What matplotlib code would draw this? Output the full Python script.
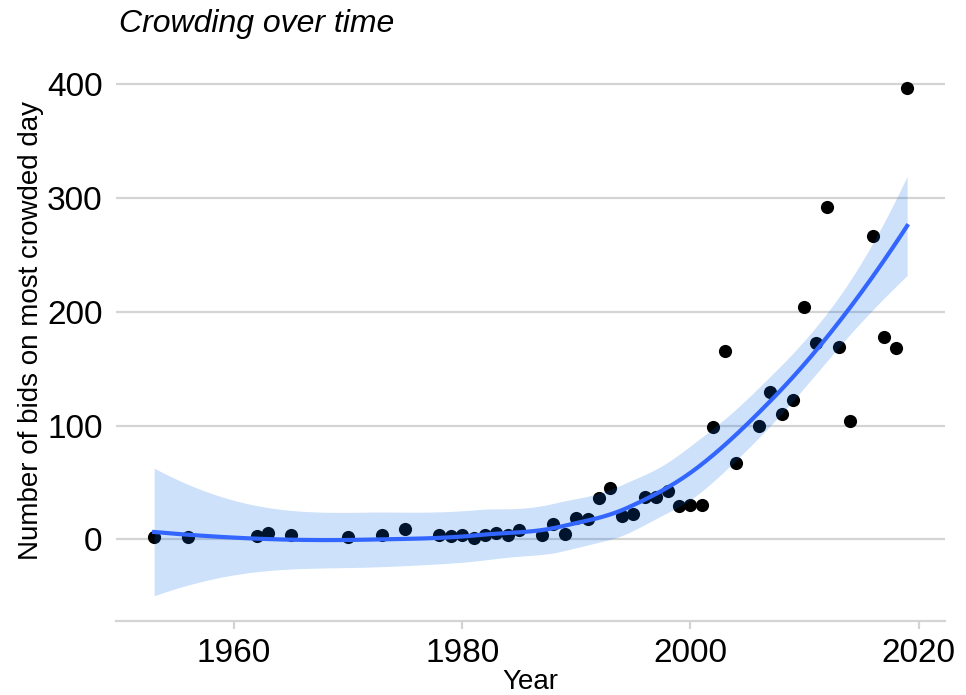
import matplotlib
matplotlib.use("Agg")
import matplotlib.pyplot as plt
import numpy as np

# ======================================
# Data
# ======================================
years = np.array([
    1953, 1956, 1962, 1963, 1965, 1970, 1973, 1975, 1978, 1979,
    1980, 1981, 1982, 1983, 1984, 1985, 1987, 1988, 1989, 1990,
    1991, 1992, 1993, 1994, 1995, 1996, 1997, 1998, 1999, 2000,
    2001, 2002, 2003, 2004, 2006, 2007, 2008, 2009, 2010, 2011,
    2012, 2013, 2014, 2016, 2017, 2018, 2019,
])
bids = np.array([
    2, 2, 3, 6, 4, 2, 4, 9, 4, 3,
    4, 1, 4, 6, 4, 8, 4, 14, 5, 19,
    18, 36, 45, 21, 22, 37, 37, 43, 29, 30,
    30, 99, 166, 67, 100, 130, 110, 123, 204, 173,
    292, 169, 104, 267, 178, 168, 397,
])


# ======================================
# loess smooth (span 0.75, local quadratic, kd-vertex interpolation)
# ======================================
SPAN = 0.75


def local_rows(x, x0, span=SPAN):
    """Smoother rows for the value and slope of the local fit at x0."""
    n = len(x)
    q = int(np.floor(span * n))
    d = np.abs(x - x0)
    h = np.sort(d)[q - 1]
    u = np.clip(d / h, 0, 1)
    w = (1 - u ** 3) ** 3
    B = np.column_stack([np.ones(n), x - x0, (x - x0) ** 2])
    BW = B * w[:, None]
    coef = np.linalg.solve(B.T @ BW, BW.T)
    return coef[0], coef[1]


def kd_vertices(xs_sorted, fc):
    rng = xs_sorted[-1] - xs_sorted[0]
    mu = 0.005 * rng
    verts = {xs_sorted[0] - mu, xs_sorted[-1] + mu}

    def split(lo, hi):
        if hi - lo + 1 <= fc:
            return
        m = (lo + hi) // 2
        v = (xs_sorted[m] + xs_sorted[m + 1]) / 2
        verts.add(v)
        split(lo, m)
        split(m + 1, hi)

    split(0, len(xs_sorted) - 1)
    return np.array(sorted(verts))


xs = years.astype(float)
fc = int(np.floor(len(xs) * SPAN * 0.2))
verts = kd_vertices(np.sort(xs), fc)
V = [local_rows(xs, v) for v in verts]
Lv = np.array([r[0] for r in V])
Dv = np.array([r[1] for r in V])


def interp_rows(xq):
    rows = []
    for x0 in xq:
        k = np.clip(np.searchsorted(verts, x0) - 1, 0, len(verts) - 2)
        h = verts[k + 1] - verts[k]
        t = (x0 - verts[k]) / h
        h00 = 2 * t**3 - 3 * t**2 + 1
        h10 = t**3 - 2 * t**2 + t
        h01 = -2 * t**3 + 3 * t**2
        h11 = t**3 - t**2
        rows.append(h00 * Lv[k] + h10 * h * Dv[k]
                    + h01 * Lv[k + 1] + h11 * h * Dv[k + 1])
    return np.array(rows)


L = interp_rows(xs)
resid = bids - L @ bids
R = np.eye(len(xs)) - L
one_delta = np.trace(R.T @ R)
s = np.sqrt(resid @ resid / one_delta)
t_crit = 2.02  # t(0.975) for df about 40

grid = np.linspace(xs.min(), xs.max(), 300)
Lg = interp_rows(grid)
fit = Lg @ bids
se = s * np.sqrt((Lg ** 2).sum(axis=1))
lo, hi = fit - t_crit * se, fit + t_crit * se

# ======================================
# Style
# ======================================
plt.rcParams.update({
    "font.family": ["Liberation Sans", "DejaVu Sans"],
})
grid_color = "#d4d4d4"

fig = plt.figure(figsize=(9.66, 6.95), dpi=100, facecolor="white")
ax = fig.add_subplot(111)
fig.subplots_adjust(left=0.1206, right=0.978, top=0.908, bottom=0.106)

ax.scatter(years, bids, s=90, color="black", linewidths=0, zorder=2)
ax.fill_between(grid, lo, hi, color=(5/255, 105/255, 230/255), alpha=0.2,
                linewidth=0, zorder=3)
ax.plot(grid, fit, color="#3366FF", linewidth=3.0, zorder=4)

ax.set_xlim(1949.7, 2022.3)
ax.set_ylim(-72, 418)
ax.set_xticks([1960, 1980, 2000, 2020])
ax.set_yticks([0, 100, 200, 300, 400])

ax.grid(axis="y", color=grid_color, linewidth=1.6)
ax.grid(axis="x", visible=False)
ax.set_axisbelow(True)

for side in ["top", "right", "left"]:
    ax.spines[side].set_visible(False)
ax.spines["bottom"].set_color(grid_color)
ax.spines["bottom"].set_linewidth(1.6)

ax.tick_params(axis="x", colors=grid_color, length=6, width=1.6,
               labelcolor="black", labelsize=24, pad=6)
ax.tick_params(axis="y", length=0, labelsize=24, pad=10)

ax.set_xlabel("Year", fontsize=20, labelpad=0)
ax.set_ylabel("Number of bids on most crowded day", fontsize=20)
ax.yaxis.set_label_coords(-0.088, 0.522)

fig.text(0.123, 0.965, "Crowding over time", fontsize=23, style="italic",
         ha="left", va="center")

fig.savefig("out.png", dpi=100)
